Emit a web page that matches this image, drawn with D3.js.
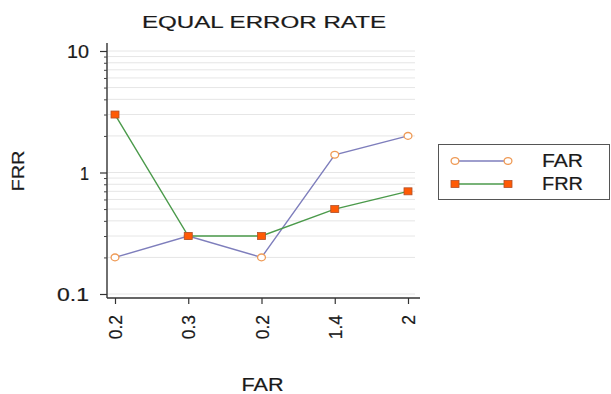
<!DOCTYPE html>
<html><head><meta charset="utf-8">
<script src="https://cdn.jsdelivr.net/npm/d3@7"></script>
<style>
html,body{margin:0;padding:0;background:#fff;}
svg{display:block;font-family:"Liberation Sans",Arial,sans-serif;}
svg text{stroke:#1a1a1a;stroke-width:0.2px;fill:#1a1a1a;}
</style></head>
<body>
<svg id="c" width="611" height="394"></svg>
<script>
const categories = ["0.2","0.3","0.2","1.4","2"];
const farValues = [0.2,0.3,0.2,1.4,2];
const frrValues = [3,0.3,0.3,0.5,0.7];
const yMajorTicks = [0.1,1,10];
const yMinorTicks = [0.2,0.3,0.4,0.5,0.6,0.7,0.8,0.9,2,3,4,5,6,7,8,9];
const seriesNames = ["FAR","FRR"];
const titleText = "EQUAL ERROR RATE";
const xLabel = "FAR", yLabel = "FRR";

const svg = d3.select("#c");
const x = d3.scalePoint().domain(d3.range(categories.length)).range([115,408]);
const y = d3.scaleLog().domain([0.1,10]).range([294,51]);
const axisY = 298, axisX = 107;

// gridlines
svg.append("g").selectAll("line").data(yMajorTicks.concat(yMinorTicks)).join("line")
  .attr("x1",axisX+1).attr("x2",415).attr("y1",d=>y(d)).attr("y2",d=>y(d))
  .attr("stroke","#e6e6e6").attr("stroke-width",1);

// axes lines
svg.append("line").attr("x1",axisX).attr("x2",axisX).attr("y1",43).attr("y2",axisY)
  .attr("stroke","#333").attr("stroke-width",1.4);
svg.append("line").attr("x1",axisX).attr("x2",420).attr("y1",axisY).attr("y2",axisY)
  .attr("stroke","#333").attr("stroke-width",1.4);

// y major axis
const gy = svg.append("g").attr("transform",`translate(${axisX},0)`)
  .call(d3.axisLeft(y).tickValues(yMajorTicks).tickSize(7).tickPadding(11).tickFormat(d3.format("~g")));
gy.select(".domain").remove();
gy.selectAll(".tick line").attr("stroke","#333").attr("stroke-width",1.2);
gy.selectAll(".tick text").attr("font-size",18.5)
  .attr("font-family","Liberation Sans, Arial, sans-serif").attr("dy","0.36em");
gy.selectAll(".tick text").each(function(d){
  const t=d3.select(this); const s=d3.format("~g")(d);
  t.attr("textLength", s.length===1?9:(s.length===2?22:32)).attr("lengthAdjust","spacingAndGlyphs");
});

// y minor ticks
const gym = svg.append("g").attr("transform",`translate(${axisX},0)`)
  .call(d3.axisLeft(y).tickValues(yMinorTicks).tickSize(3).tickFormat(""));
gym.select(".domain").remove();
gym.selectAll(".tick line").attr("stroke","#444").attr("stroke-width",1);

// x axis
const gx = svg.append("g").attr("transform",`translate(0,${axisY})`)
  .call(d3.axisBottom(x).tickSize(6).tickFormat(i=>categories[i]));
gx.select(".domain").remove();
gx.selectAll(".tick line").attr("stroke","#333").attr("stroke-width",1.2);
gx.selectAll(".tick text").attr("font-size",17.5)
  .attr("font-family","Liberation Sans, Arial, sans-serif")
  .attr("text-anchor","end").attr("y",0).attr("dy",0)
  .attr("transform","translate(6.5,17) rotate(-90)");

// lines
const line = d3.line().x((d,i)=>x(i)).y(d=>y(d));
svg.append("path").datum(farValues).attr("d",line).attr("fill","none")
  .attr("stroke","#7e7ebc").attr("stroke-width",1.4);
svg.append("path").datum(frrValues).attr("d",line).attr("fill","none")
  .attr("stroke","#4b9a4b").attr("stroke-width",1.4);

// markers
svg.append("g").selectAll("ellipse").data(farValues).join("ellipse")
  .attr("cx",(d,i)=>x(i)).attr("cy",d=>y(d)).attr("rx",3.9).attr("ry",3.4)
  .attr("fill","#fff").attr("stroke","#ef9a55").attr("stroke-width",1.3);
svg.append("g").selectAll("rect").data(frrValues).join("rect")
  .attr("x",(d,i)=>x(i)-4).attr("y",d=>y(d)-3.5).attr("width",8).attr("height",7)
  .attr("fill","#ff5a05").attr("stroke","#b0502a").attr("stroke-width",0.8);

// title
svg.append("text").attr("x",264).attr("y",28).attr("text-anchor","middle")
  .attr("font-size",16).attr("textLength",244).attr("lengthAdjust","spacingAndGlyphs")
  .text(titleText);

// axis titles
svg.append("text").attr("x",262.5).attr("y",391).attr("text-anchor","middle")
  .attr("font-size",18).attr("textLength",42).attr("lengthAdjust","spacingAndGlyphs")
  .text(xLabel);
svg.append("text").attr("transform","translate(24,171) rotate(-90)").attr("text-anchor","middle")
  .attr("font-size",16).attr("textLength",41).attr("lengthAdjust","spacingAndGlyphs")
  .text(yLabel);

// legend
const lg = svg.append("g");
lg.append("rect").attr("x",438.5).attr("y",144.5).attr("width",171).attr("height",55)
  .attr("fill","#fff").attr("stroke","#555").attr("stroke-width",1);
const rows = [161,184];
lg.append("line").attr("x1",455).attr("x2",508).attr("y1",rows[0]).attr("y2",rows[0])
  .attr("stroke","#7e7ebc").attr("stroke-width",1.4);
lg.append("line").attr("x1",455).attr("x2",508).attr("y1",rows[1]).attr("y2",rows[1])
  .attr("stroke","#4b9a4b").attr("stroke-width",1.4);
[455,508].forEach(cx=>{
  lg.append("ellipse").attr("cx",cx).attr("cy",rows[0]).attr("rx",3.9).attr("ry",3.4)
    .attr("fill","#fff").attr("stroke","#ef9a55").attr("stroke-width",1.3);
  lg.append("rect").attr("x",cx-4).attr("y",rows[1]-3.5).attr("width",8).attr("height",7)
    .attr("fill","#ff5a05").attr("stroke","#b0502a").attr("stroke-width",0.8);
});
seriesNames.forEach((n,i)=>{
  lg.append("text").attr("x",542).attr("y",rows[i]+6).attr("font-size",18)
    .attr("textLength",41).attr("lengthAdjust","spacingAndGlyphs").text(n);
});
</script>
</body></html>
